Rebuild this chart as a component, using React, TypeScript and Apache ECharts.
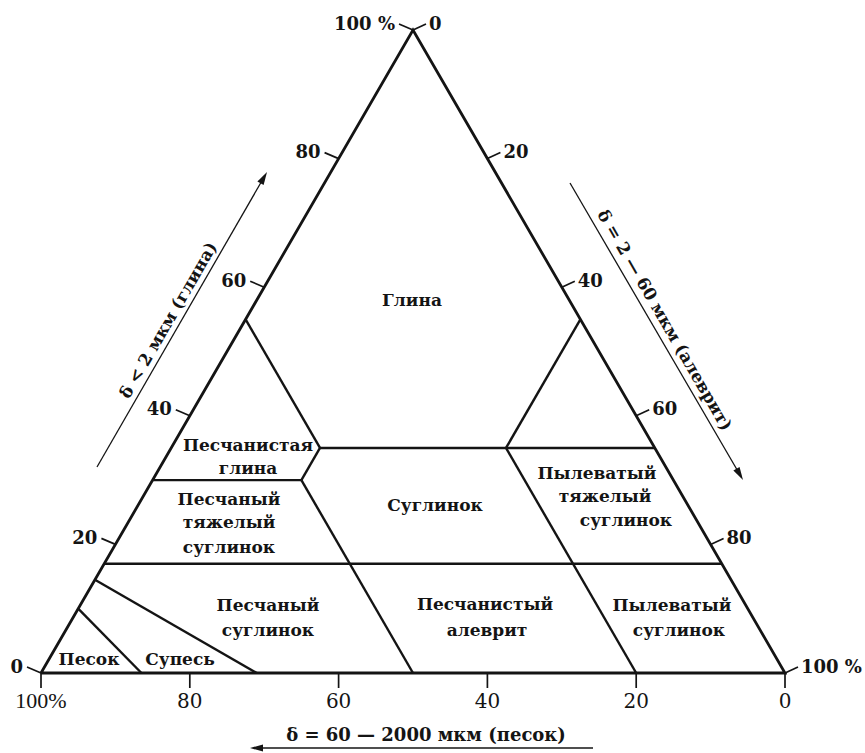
import React, { useEffect, useRef } from 'react';
import * as echarts from 'echarts';

// Ternary points: [clay (<2 мкм), silt (2–60 мкм), sand (60–2000 мкм)], %
const outline = [[0, 0, 100], [0, 100, 0], [100, 0, 0], [0, 0, 100]];
const glinaLeft = [[55, 0, 45], [35, 20, 45]];
const sandyClayStep = [[35, 20, 45], [30, 20, 50]];
const clay35 = [[35, 20, 45], [35, 65, 0]];
const clay30 = [[30, 0, 70], [30, 20, 50]];
const sand50 = [[30, 20, 50], [0, 50, 50]];
const silt45 = [[35, 45, 20], [55, 45, 0]];
const sand20 = [[35, 45, 20], [0, 80, 20]];
const clay17 = [[17, 0, 83], [17, 83, 0]];
const supesBoundary = [[14.5, 0, 85.5], [0, 29, 71]];
const pesokBoundary = [[10, 0, 90], [0, 13.5, 86.5]];

const innerLines = [glinaLeft, sandyClayStep, clay35, clay30, sand50, silt45, sand20, clay17, supesBoundary, pesokBoundary];

// Axis ticks
const sandTicks = [100, 80, 60, 40, 20, 0];
const sandTickLabels = ['100%', '80', '60', '40', '20', '0'];
const clayTicks = [0, 20, 40, 60, 80, 100];
const clayTickLabels = ['0', '20', '40', '60', '80', '100 %'];
const siltTicks = [0, 20, 40, 60, 80, 100];
const siltTickLabels = ['0', '20', '40', '60', '80', '100 %'];

const axisTitles = {
  clay: 'δ < 2 мкм (глина)',
  silt: 'δ = 2 — 60 мкм (алеврит)',
  sand: 'δ = 60 — 2000 мкм (песок)',
};

const regionLabels = [
  { text: 'Глина', x: 412, y: 300 },
  { text: 'Песчанистая', x: 248, y: 445 },
  { text: 'глина', x: 248, y: 468 },
  { text: 'Песчаный', x: 229, y: 499 },
  { text: 'тяжелый', x: 229, y: 522 },
  { text: 'суглинок', x: 229, y: 547 },
  { text: 'Суглинок', x: 435, y: 505 },
  { text: 'Песчаный', x: 268, y: 605 },
  { text: 'суглинок', x: 268, y: 630 },
  { text: 'Песок', x: 89, y: 659 },
  { text: 'Супесь', x: 180, y: 659 },
  { text: 'Песчанистый', x: 485, y: 604 },
  { text: 'алеврит', x: 487, y: 630 },
  { text: 'Пылеватый', x: 597, y: 473 },
  { text: 'тяжелый', x: 605, y: 496 },
  { text: 'суглинок', x: 626, y: 520 },
  { text: 'Пылеватый', x: 672, y: 605 },
  { text: 'суглинок', x: 679, y: 630 },
];

const INK = '#141414';
const SERIF = '"DejaVu Serif", serif';

const toXY = (p: number[]) => [p[1] + p[0] / 2, p[0]];

type Tick = { xy: number[]; side: 'bottom' | 'left' | 'right'; label: string; times?: boolean };

function buildTicks(): Tick[] {
  const t: Tick[] = [];
  sandTicks.forEach((s, i) => t.push({ xy: toXY([0, 100 - s, s]), side: 'bottom', label: sandTickLabels[i], times: s === 100 }));
  clayTicks.forEach((c, i) => t.push({ xy: toXY([c, 0, 100 - c]), side: 'left', label: clayTickLabels[i] }));
  siltTicks.forEach((s, i) => t.push({ xy: toXY([100 - s, s, 0]), side: 'right', label: siltTickLabels[i] }));
  return t;
}

function arrow(x1: number, y1: number, x2: number, y2: number) {
  const dx = x2 - x1, dy = y2 - y1;
  const L = Math.hypot(dx, dy);
  const ux = dx / L, uy = dy / L;
  const px = -uy, py = ux;
  const hl = 13, hw = 3.6;
  const bx = x2 - ux * hl, by = y2 - uy * hl;
  return [
    { type: 'line', shape: { x1, y1, x2: x2 - ux * 4, y2: y2 - uy * 4 }, style: { stroke: INK, lineWidth: 1.3 } },
    {
      type: 'polygon',
      shape: { points: [[x2, y2], [bx + px * hw, by + py * hw], [bx - px * hw, by - py * hw]] },
      style: { fill: INK },
    },
  ];
}

function txt(text: string, x: number, y: number, extra: any = {}) {
  return {
    type: 'text',
    x,
    y,
    rotation: extra.rotation || 0,
    style: {
      text,
      fill: INK,
      fontFamily: extra.fontFamily || SERIF,
      fontSize: extra.fontSize || 18,
      fontWeight: extra.fontWeight || 'normal',
      align: 'center',
      verticalAlign: 'middle',
      textAlign: 'center',
      textVerticalAlign: 'middle',
    },
  };
}

export default function App() {
  const ref = useRef<HTMLDivElement>(null);
  useEffect(() => {
    if (!ref.current) return;
    const chart = echarts.init(ref.current, null, { renderer: 'svg' });
    const ticks = buildTicks();

    const lineSeries = [outline, ...innerLines].map((pts, i) => ({
      type: 'line',
      data: pts.map(toXY),
      symbol: 'none',
      clip: false,
      silent: true,
      lineStyle: { color: INK, width: i === 0 ? 2.8 : 2.4, join: 'miter' },
      z: 3,
    }));

    const tickVec: any = { bottom: [0, 15], left: [-14, -6], right: [13, -6] };

    const tickSeries = {
      type: 'custom',
      coordinateSystem: 'cartesian2d',
      clip: false,
      silent: true,
      data: ticks.map((t) => t.xy),
      encode: { x: 0, y: 1 },
      renderItem: (params: any, api: any) => {
        const t = ticks[params.dataIndex];
        const p = api.coord([api.value(0), api.value(1)]);
        const v = tickVec[t.side];
        let lx = p[0], ly = p[1], align = 'center';
        if (t.side === 'bottom') { ly = p[1] + 27.5; }
        else if (t.side === 'left') { lx = p[0] - 18; ly = p[1] - 7; align = 'right'; }
        else { lx = p[0] + 16; ly = p[1] - 7; align = 'left'; }
        const bottom = t.side === 'bottom';
        return {
          type: 'group',
          children: [
            { type: 'line', shape: { x1: p[0], y1: p[1], x2: p[0] + v[0], y2: p[1] + v[1] }, style: { stroke: INK, lineWidth: 1.7 } },
            {
              type: 'text',
              x: lx,
              y: ly,
              style: {
                text: t.label,
                fill: INK,
                fontFamily: t.times ? '"Liberation Serif", serif' : SERIF,
                fontSize: t.times ? 22 : bottom ? 20 : 18,
                fontWeight: t.times ? 'normal' : bottom ? 'normal' : 'bold',
                align,
                verticalAlign: 'middle',
                textAlign: align,
                textVerticalAlign: 'middle',
              },
            },
          ],
        };
      },
      z: 4,
    };

    const graphics: any[] = [];
    regionLabels.forEach((l) => graphics.push(txt(l.text, l.x, l.y, { fontSize: 17, fontWeight: 'bold' })));
    graphics.push(...arrow(97, 467, 267, 172));
    graphics.push(...arrow(570, 183, 743, 480));
    graphics.push(...arrow(593, 748, 250, 748));
    graphics.push(txt(axisTitles.clay, 168, 320, { rotation: Math.PI / 3, fontSize: 17, fontWeight: 'bold' }));
    graphics.push(txt(axisTitles.silt, 665, 320, { rotation: -Math.PI / 3, fontSize: 17, fontWeight: 'bold' }));
    graphics.push(txt(axisTitles.sand, 426, 734, { fontSize: 18, fontWeight: 'bold' }));

    chart.setOption({
      animation: false,
      backgroundColor: '#ffffff',
      grid: { left: 41, right: 80, top: 30, bottom: 80 },
      xAxis: { type: 'value', min: 0, max: 100, show: false },
      yAxis: { type: 'value', min: 0, max: 100, show: false },
      series: [...lineSeries, tickSeries],
      graphic: { elements: graphics },
    });
    return () => chart.dispose();
  }, []);
  return <div ref={ref} style={{ position: 'fixed', left: 0, top: 0, width: 865, height: 753, background: '#fff' }} />;
}
